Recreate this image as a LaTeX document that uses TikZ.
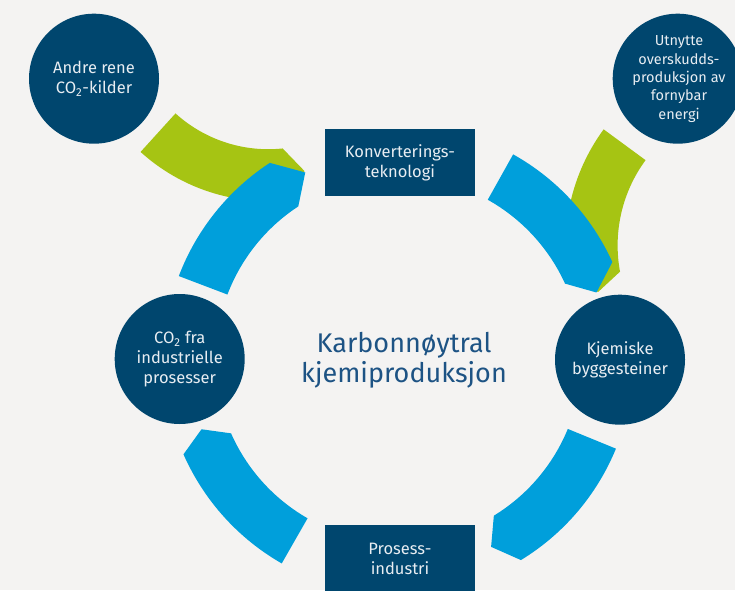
\documentclass[tikz,border=0pt]{standalone}
\usepackage{fontspec}
\setmainfont{Fira Sans}
\definecolor{bgc}{HTML}{F4F3F2}
\definecolor{navy}{HTML}{00466E}
\definecolor{arcblue}{HTML}{009FDB}
\definecolor{arcgreen}{HTML}{A6C413}
\definecolor{titleblue}{HTML}{1D5384}
\definecolor{lighttext}{HTML}{E8EDF2}
\newcommand\ringarc[6]{% fill colour, start angle, end angle, tip angle, inner r, outer r
  \fill[#1] (#2:#6) arc[start angle=#2,end angle=#3,radius=#6]
    -- (#4:{(#5+#6)/2}) -- (#3:#5)
    arc[start angle=#3,end angle=#2,radius=#5] -- cycle;}
\tikzset{
  circ/.style={circle,fill=navy,minimum size=130,inner sep=0pt},
  ctext/.style={text=lighttext,align=center,font=\fontsize{16.5}{20}\selectfont},
  boxnode/.style={rectangle,fill=navy,minimum width=150,minimum height=67,inner sep=0pt,
    text=lighttext,align=center,font=\fontsize{16.5}{20}\selectfont},
  titletext/.style={text=titleblue,align=center,font=\fontsize{27}{30}\selectfont}
}
\begin{document}
\begin{tikzpicture}[x=1pt,y=1pt]
\fill[bgc] (0,0) rectangle (735,590);
\useasboundingbox (0,0) rectangle (735,590);
% green arcs
\begin{scope}[shift={(268.2,578.8)}]
  \ringarc{arcgreen}{-132.2}{-84}{-77.2}{138}{190}
\end{scope}
\begin{scope}[shift={(761.6,344.6)}]
  \ringarc{arcgreen}{143.7}{190.5}{195.9}{144}{196}
\end{scope}
% blue cycle arcs
\begin{scope}[shift={(398.5,230.5)}]
  \ringarc{arcblue}{159.2}{123.2}{116.5}{183}{235}
  \ringarc{arcblue}{60.8}{24.5}{18.7}{183}{235}
  \ringarc{arcblue}{-22.3}{-58.6}{-63.7}{183}{235}
  \ringarc{arcblue}{-119.8}{-156.2}{-160.5}{183}{235}
\end{scope}
% circles
\node[circ] (andre) at (94,511.3) {};
\node[ctext] (andretext) at (andre) {Andre rene\\CO\textsubscript{2}-kilder};
\node[circ] (utnytte) at (677.7,511.3) {};
\node[ctext,font=\fontsize{14.5}{18.3}\selectfont] (utnyttetext) at (679,511) {Utnytte\\overskudds-\\produksjon av\\fornybar\\energi};
\node[circ] (co2) at (179.7,231) {};
\node[ctext] (co2text) at (co2) {CO\textsubscript{2} fra\\industrielle\\prosesser};
\node[circ] (kjem) at (620,230.3) {};
\node[ctext] (kjemtext) at (kjem) {Kjemiske\\byggesteiner};
% boxes
\node[boxnode] (konv) at (400,427.5) {Konverterings-\\teknologi};
\node[boxnode] (prosess) at (400,31.5) {Prosess-\\industri};
% title
\node[titletext] (title) at (404,230) {Karbonnøytral\\kjemiproduksjon};
\end{tikzpicture}
\end{document}
